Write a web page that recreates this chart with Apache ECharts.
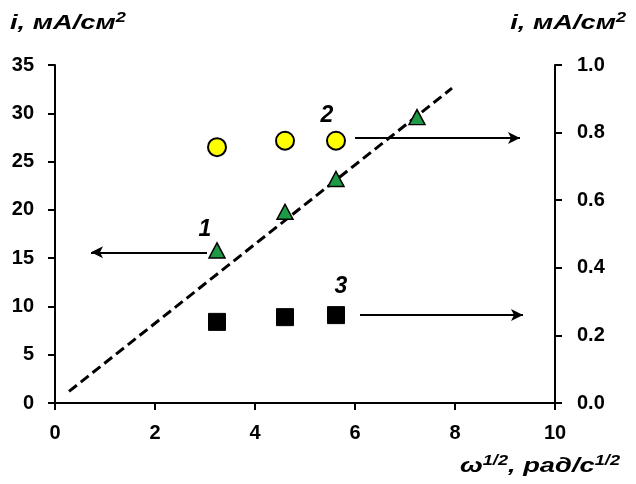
<!DOCTYPE html>
<html>
<head>
<meta charset="utf-8">
<script src="https://cdn.jsdelivr.net/npm/echarts@6/dist/echarts.min.js"></script>
<style>
  html, body { margin: 0; padding: 0; background: #fff; }
  #chart { width: 636px; height: 484px; }
</style>
</head>
<body>
<div id="chart"></div>
<script>
// Square root of rotation speed, ω^1/2 (rad/s)^1/2
const omegaSqrt = [3.24, 4.6, 5.62, 7.24];
// Curve 1: current density, left axis (mA/cm²)
const current1 = [15.8, 19.8, 23.2, 29.6];
// Curve 2: current density, right axis (mA/cm²)
const current2 = [0.757, 0.776, 0.776];
// Curve 3: current density, right axis (mA/cm²)
const current3 = [0.24, 0.254, 0.26];
// Linear fit through curve 1 (end points)
const fitX = [0.28, 7.94];
const fitY = [1.2, 32.6];

const leftTicks = { min: 0, max: 35, interval: 5 };
const rightTicks = { min: 0, max: 1.0, interval: 0.2 };
const xTicks = { min: 0, max: 10, interval: 2 };

const FONT = '"Liberation Sans", Arial, sans-serif';
const labelStyle = { fontFamily: FONT, fontWeight: 'bold', fontSize: 20, color: '#000' };
const axisLine = { show: true, lineStyle: { color: '#000', width: 2 } };
const axisTick = { show: true, inside: false, length: 7, lineStyle: { color: '#000', width: 2 } };

function pairs(xs, ys) { return ys.map((y, i) => [xs[i], y]); }

const richUnits = {
  m: { fontFamily: FONT, fontWeight: 'bold', fontStyle: 'italic', fontSize: 21, lineHeight: 24, fill: '#000' },
  s: { fontFamily: FONT, fontWeight: 'bold', fontStyle: 'italic', fontSize: 14, lineHeight: 24, verticalAlign: 'top', fill: '#000' }
};

// Axis captions are set in a slightly widened face
function caption(text, x, y, align) {
  return {
    type: 'text', x, y, scaleX: 1.3, scaleY: 1,
    style: { text, rich: richUnits, x: 0, y: 0, align, verticalAlign: 'middle' }
  };
}

const arrowLine = { color: '#000', width: 2, type: 'solid' };
const tagLabel = { show: true, fontFamily: FONT, fontWeight: 'bold', fontStyle: 'italic', fontSize: 23, color: '#000' };

const chart = echarts.init(document.getElementById('chart'), null, { renderer: 'canvas' });
chart.setOption({
  animation: false,
  backgroundColor: '#fff',
  grid: { left: 55, right: 81, top: 65, bottom: 81, containLabel: false },
  xAxis: {
    type: 'value', min: xTicks.min, max: xTicks.max, interval: xTicks.interval,
    axisLine, axisTick, splitLine: { show: false },
    axisLabel: Object.assign({ margin: 20 }, labelStyle)
  },
  yAxis: [
    {
      type: 'value', position: 'left', min: leftTicks.min, max: leftTicks.max, interval: leftTicks.interval,
      axisLine, axisTick, splitLine: { show: false },
      axisLabel: Object.assign({ margin: 21 }, labelStyle)
    },
    {
      type: 'value', position: 'right', min: rightTicks.min, max: rightTicks.max, interval: rightTicks.interval,
      alignTicks: false,
      axisLine, axisTick, splitLine: { show: false },
      axisLabel: Object.assign({ margin: 22, formatter: v => v.toFixed(1) }, labelStyle)
    }
  ],
  graphic: [
    caption('{m|i, мА/см}{s|2}', 10, 23, 'left'),
    caption('{m|i, мА/см}{s|2}', 626, 23, 'right'),
    caption('{m|ω}{s|1/2}{m|, рад/с}{s|1/2}', 620, 466, 'right')
  ],
  series: [
    {
      name: 'fit', type: 'line', yAxisIndex: 0, z: 2,
      data: pairs(fitX, fitY), symbol: 'none',
      lineStyle: { color: '#000', width: 3, type: [10, 5], cap: 'butt' }
    },
    {
      name: '1', type: 'scatter', yAxisIndex: 0, z: 3,
      data: pairs(omegaSqrt, current1),
      symbol: 'triangle', symbolSize: [16, 15],
      itemStyle: { color: '#1e9a46', borderColor: '#000', borderWidth: 1.5, opacity: 1 },
      markLine: {
        silent: true, symbol: ['arrow', 'none'], symbolSize: [9, 12],
        lineStyle: arrowLine, label: { show: false },
        data: [[{ coord: [0.72, 15.6] }, { coord: [3.04, 15.6] }]]
      },
      markPoint: {
        silent: true, symbol: 'circle', symbolSize: 1, itemStyle: { color: 'rgba(0,0,0,0)' },
        label: Object.assign({ formatter: '1' }, tagLabel),
        data: [{ coord: [3.0, 17.9] }]
      }
    },
    {
      name: '2', type: 'scatter', yAxisIndex: 1, z: 3,
      data: pairs(omegaSqrt, current2),
      symbol: 'circle', symbolSize: 18,
      itemStyle: { color: '#ffff00', borderColor: '#000', borderWidth: 2, opacity: 1 },
      markLine: {
        silent: true, symbol: ['none', 'arrow'], symbolSize: [9, 12],
        lineStyle: arrowLine, label: { show: false },
        data: [[{ coord: [6.0, 0.784] }, { coord: [9.3, 0.784] }]]
      },
      markPoint: {
        silent: true, symbol: 'circle', symbolSize: 1, itemStyle: { color: 'rgba(0,0,0,0)' },
        label: Object.assign({ formatter: '2' }, tagLabel),
        data: [{ coord: [5.44, 0.85] }]
      }
    },
    {
      name: '3', type: 'scatter', yAxisIndex: 1, z: 3,
      data: pairs(omegaSqrt, current3),
      symbol: 'rect', symbolSize: 17,
      itemStyle: { color: '#000', borderColor: '#000', borderWidth: 1, opacity: 1 },
      markLine: {
        silent: true, symbol: ['none', 'arrow'], symbolSize: [9, 12],
        lineStyle: arrowLine, label: { show: false },
        data: [[{ coord: [6.1, 0.26] }, { coord: [9.36, 0.26] }]]
      },
      markPoint: {
        silent: true, symbol: 'circle', symbolSize: 1, itemStyle: { color: 'rgba(0,0,0,0)' },
        label: Object.assign({ formatter: '3' }, tagLabel),
        data: [{ coord: [5.72, 0.345] }]
      }
    }
  ]
});
</script>
</body>
</html>
